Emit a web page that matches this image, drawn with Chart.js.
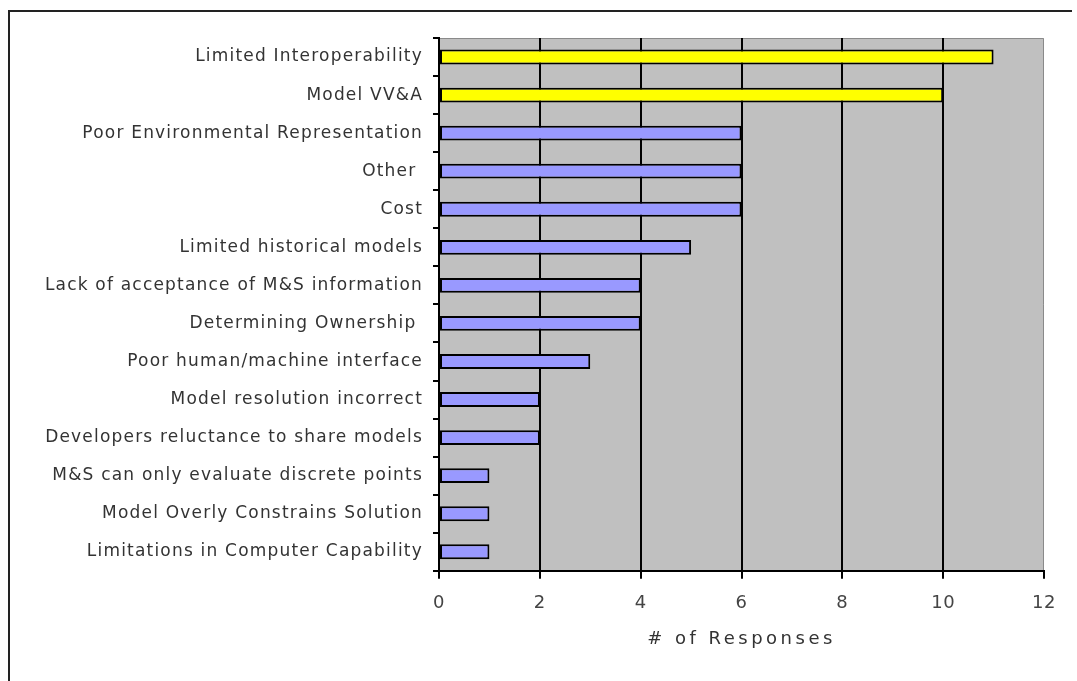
<!DOCTYPE html>
<html>
<head>
<meta charset="utf-8">
<script src="https://cdn.jsdelivr.net/npm/chart.js@4/dist/chart.umd.min.js"></script>
<style>
  html, body { margin: 0; padding: 0; background: #fff; overflow: hidden; }
  #wrap { position: relative; width: 1077px; height: 681px; }
  #frame { position: absolute; left: 8px; top: 10px; width: 1062px; height: 720px;
           border-left: 2px solid #222; border-top: 2px solid #222; pointer-events: none; }
  canvas { position: absolute; left: 0; top: 0; }
</style>
</head>
<body>
<div id="wrap">
  <canvas id="chart" width="1077" height="681"></canvas>
  <div id="frame"></div>
</div>
<script>
// Reported limitations of modelling & simulation, by number of responses
const categories = [
  "Limited Interoperability",
  "Model VV&A",
  "Poor Environmental Representation",
  "Other ",
  "Cost",
  "Limited historical models",
  "Lack of acceptance of M&S information",
  "Determining Ownership ",
  "Poor human/machine interface",
  "Model resolution incorrect",
  "Developers reluctance to share models",
  "M&S can only evaluate discrete points",
  "Model Overly Constrains Solution",
  "Limitations in Computer Capability"
];
const responses = [11, 10, 6, 6, 6, 5, 4, 4, 3, 2, 2, 1, 1, 1];
const highlighted = [true, true, false, false, false, false, false, false, false, false, false, false, false, false];
const xTicks = [0, 2, 4, 6, 8, 10, 12];
const xTitle = "# of Responses";

const barColors = highlighted.map(h => h ? "#FFFF00" : "#9999FF");

// gray plot background with a thin darker edge on top and right
const plotBackground = {
  id: "plotBackground",
  beforeDraw(chart) {
    const { ctx, chartArea: a } = chart;
    ctx.save();
    ctx.fillStyle = "#C0C0C0";
    ctx.fillRect(a.left, a.top, a.right - a.left, a.bottom - a.top);
    ctx.strokeStyle = "#8a8a8a";
    ctx.lineWidth = 1;
    ctx.beginPath();
    ctx.moveTo(a.left, a.top + 0.5);
    ctx.lineTo(a.right - 0.5, a.top + 0.5);
    ctx.lineTo(a.right - 0.5, a.bottom);
    ctx.stroke();
    ctx.restore();
  }
};

// wide, evenly tracked lettering for axis text
const tracking = { y: { labels: "1.2px", title: "0px" }, x: { labels: "0.5px", title: "3.5px" } };
const letterSpacing = {
  id: "letterSpacing",
  afterLayout(chart) {
    Object.keys(tracking).forEach(id => {
      const s = chart.scales[id];
      if (!s || s._tracked) return;
      const sp = tracking[id];
      const drawLabels = s.drawLabels, drawTitle = s.drawTitle;
      s.drawLabels = function (area) {
        const c = this.ctx, prev = c.letterSpacing;
        c.letterSpacing = sp.labels; drawLabels.call(this, area); c.letterSpacing = prev;
      };
      s.drawTitle = function (area) {
        const c = this.ctx, prev = c.letterSpacing;
        c.letterSpacing = sp.title; drawTitle.call(this, area); c.letterSpacing = prev;
      };
      s._tracked = true;
    });
  }
};

new Chart(document.getElementById("chart"), {
  type: "bar",
  data: {
    labels: categories,
    datasets: [{
      data: responses,
      backgroundColor: barColors,
      borderColor: "#000",
      borderWidth: 2,
      borderSkipped: false,
      categoryPercentage: 1,
      barPercentage: 0.39
    }]
  },
  options: {
    indexAxis: "y",
    responsive: false,
    animation: false,
    devicePixelRatio: 1,
    layout: { padding: { left: 0, top: 38, right: 33, bottom: 31 } },
    plugins: { legend: { display: false }, tooltip: { enabled: false } },
    scales: {
      x: {
        min: 0, max: 12,
        afterBuildTicks(scale) { scale.ticks = xTicks.map(v => ({ value: v })); },
        grid: {
          color: c => (c.tick && c.tick.value === 12) ? "rgba(0,0,0,0)" : "#000",
          tickColor: "#000",
          lineWidth: 2,
          tickLength: 8
        },
        border: { color: "#000", width: 2 },
        ticks: {
          color: "#444",
          font: { family: "DejaVu Sans", size: 18 },
          padding: 14,
          maxRotation: 0
        },
        title: {
          display: true,
          text: xTitle,
          color: "#333",
          font: { family: "DejaVu Sans", size: 18 },
          padding: { top: 0, bottom: 0 }
        }
      },
      y: {
        afterFit(scale) { scale.width = 439; },
        grid: {
          offset: true,
          drawOnChartArea: false,
          color: "#000",
          tickColor: "#000",
          lineWidth: 2,
          tickLength: 6
        },
        border: { color: "#000", width: 2 },
        ticks: {
          color: "#333",
          font: { family: "DejaVu Sans", size: 17 },
          padding: 10,
          autoSkip: false
        }
      }
    }
  },
  plugins: [plotBackground, letterSpacing]
});
</script>
</body>
</html>
